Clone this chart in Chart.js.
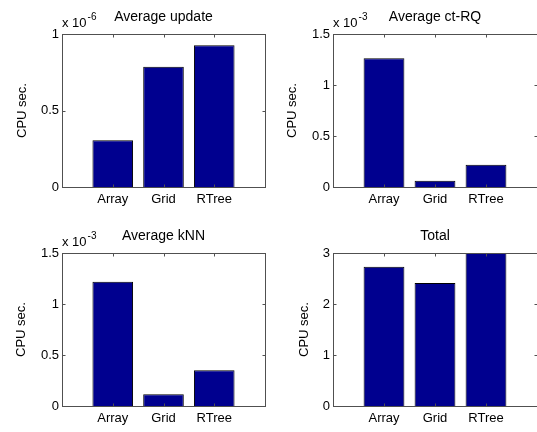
<!DOCTYPE html>
<html>
<head>
<meta charset="utf-8">
<script src="https://cdn.jsdelivr.net/npm/chart.js@4.4.1/dist/chart.umd.min.js"></script>
<style>
  html, body { margin: 0; padding: 0; background: #fff; overflow: hidden; }
  #figure { position: relative; width: 537px; height: 432px; overflow: hidden; }
  #figure canvas { position: absolute; }
</style>
</head>
<body>
<div id="figure">
  <canvas id="update-chart" width="270" height="216" style="left:0;top:0"></canvas>
  <canvas id="rq-chart" width="272" height="216" style="left:270px;top:0"></canvas>
  <canvas id="knn-chart" width="270" height="216" style="left:0;top:216px"></canvas>
  <canvas id="total-chart" width="272" height="216" style="left:270px;top:216px"></canvas>
</div>
<script>
const methods = ['Array', 'Grid', 'RTree'];
const methodPos = [1, 2, 3];

// CPU seconds, in units of 10^exponent
const updateCpu = [0.305, 0.786, 0.927];
const rangeQueryCpu = [1.263, 0.061, 0.217];
const knnCpu = [1.218, 0.114, 0.350];
const totalCpu = [2.73, 2.41, 3.00];

const titles = ['Average update', 'Average ct-RQ', 'Average kNN', 'Total'];
const exponents = [-6, -3, -3, 0];
const yMaxes = [1, 1.5, 1.5, 3];
const ySteps = [0.5, 0.5, 0.5, 1];

const FONT = '"Liberation Sans", Arial, Helvetica, sans-serif';
const BAR_FILL = '#00008f';
const AXIS_COLOR = '#505050';

Chart.defaults.font.family = FONT;
Chart.defaults.font.size = 13;
Chart.defaults.color = '#000';

// boxed axes with inward ticks + the "x 10^n" multiplier, like matlab
const matlabAxes = {
    id: 'matlabAxes',
    afterDatasetsDraw(chart, args, opts) {
        const { ctx, chartArea: a, scales: { x, y } } = chart;
        const px = v => Math.round(v) + 0.5;
        const L = px(a.left), R = px(a.right), T = px(a.top), B = px(a.bottom);
        const tick = 3;

        ctx.save();
        ctx.strokeStyle = AXIS_COLOR;
        ctx.lineWidth = 1;
        ctx.strokeRect(L, T, R - L, B - T);

        ctx.beginPath();
        x.ticks.forEach(t => {
            if (methodPos.indexOf(t.value) < 0) return;
            const xp = px(x.getPixelForValue(t.value));
            ctx.moveTo(xp, B); ctx.lineTo(xp, B - tick);
            ctx.moveTo(xp, T); ctx.lineTo(xp, T + tick);
        });
        y.ticks.forEach(t => {
            const yp = px(y.getPixelForValue(t.value));
            ctx.moveTo(L, yp); ctx.lineTo(L + tick, yp);
            ctx.moveTo(R, yp); ctx.lineTo(R - tick, yp);
        });
        ctx.stroke();

        if (opts.power) {
            ctx.fillStyle = '#000';
            ctx.textAlign = 'left';
            ctx.textBaseline = 'alphabetic';
            ctx.font = '13px ' + FONT;
            ctx.fillText('x 10', a.left, a.top - 7);
            const w = ctx.measureText('x 10').width;
            ctx.font = '10px ' + FONT;
            ctx.fillText(String(opts.power), a.left + w + 1, a.top - 14);
        }
        ctx.restore();
    }
};

function buildChart(canvasId, values, idx, box) {
    const ctx = document.getElementById(canvasId).getContext('2d');
    return new Chart(ctx, {
        type: 'bar',
        data: {
            datasets: [{
                data: values.map((v, k) => ({ x: methodPos[k], y: v })),
                backgroundColor: BAR_FILL,
                borderColor: '#000',
                borderWidth: 1,
                barPercentage: 0.8,
                categoryPercentage: 1
            }]
        },
        options: {
            responsive: false,
            animation: false,
            events: [],
            layout: { padding: { right: box.padRight } },
            plugins: {
                legend: { display: false },
                tooltip: { enabled: false },
                title: {
                    display: true,
                    text: titles[idx],
                    fullSize: false,
                    color: '#000',
                    font: { size: 14, weight: 'normal' },
                    padding: { top: box.titleTop, bottom: 8.6 }
                },
                matlabAxes: { power: exponents[idx] }
            },
            scales: {
                x: {
                    type: 'linear',
                    min: 0,
                    max: 4,
                    offset: false,
                    grid: { display: false, drawTicks: false },
                    border: { display: false },
                    ticks: {
                        stepSize: 1,
                        autoSkip: false,
                        maxRotation: 0,
                        padding: 5,
                        callback: v => methods[methodPos.indexOf(v)] || ''
                    },
                    afterFit: s => { s.height = box.xHeight; }
                },
                y: {
                    min: 0,
                    max: yMaxes[idx],
                    grid: { display: false, drawTicks: false },
                    border: { display: false },
                    ticks: {
                        stepSize: ySteps[idx],
                        padding: 3,
                        callback: v => String(+v.toFixed(2))
                    },
                    title: {
                        display: true,
                        text: 'CPU sec.',
                        color: '#000',
                        font: { size: 13 },
                        padding: { top: box.ylabelPad, bottom: 0 }
                    },
                    afterFit: s => { s.width = box.yWidth; }
                }
            }
        },
        plugins: [matlabAxes]
    });
}

buildChart('update-chart', updateCpu, 0, { yWidth: 62, padRight: 2, titleTop: 8.6, xHeight: 29, ylabelPad: 15 });
buildChart('rq-chart', rangeQueryCpu, 1, { yWidth: 63, padRight: 3, titleTop: 8.6, xHeight: 29, ylabelPad: 15 });
buildChart('knn-chart', knnCpu, 2, { yWidth: 62, padRight: 2, titleTop: 11.6, xHeight: 26, ylabelPad: 14 });
buildChart('total-chart', totalCpu, 3, { yWidth: 63, padRight: 3, titleTop: 11.6, xHeight: 26, ylabelPad: 27 });
</script>
</body>
</html>
